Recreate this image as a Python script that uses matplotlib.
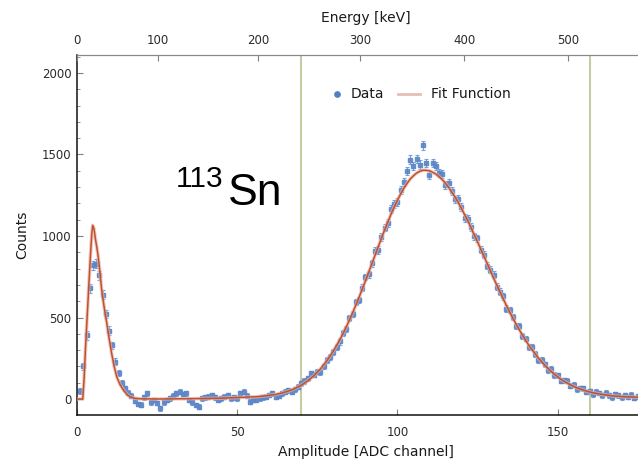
import matplotlib
matplotlib.use("Agg")
import matplotlib.pyplot as plt
from matplotlib.lines import Line2D

plt.rcParams['font.family'] = ['DejaVu Sans']

# ---------------- data ----------------
channels = list(range(1, 176))
counts = [
    50, 200, 390, 680, 820, 830, 760, 640, 520, 420,
    330, 230, 160, 100, 65, 40, 20, -10, -30, -35,
    10, 35, -20, -5, -25, -57, -20, -6, 4, 20,
    35, 45, 30, 35, -6, -20, -37, -47, 4, 10,
    14, 25, 10, -6, 4, 15, 25, 4, 10, 4,
    35, 45, 20, -16, -6, -6, 4, 10, 14, 25,
    35, 14, 20, 35, 45, 55, 45, 60, 76, 96,
    110, 127, 158, 150, 168, 165, 200, 240, 260, 290,
    321, 353, 405, 430, 498, 522, 594, 607, 682, 748,
    765, 833, 910, 913, 995, 1051, 1080, 1168, 1197, 1209,
    1282, 1333, 1397, 1469, 1429, 1473, 1438, 1555, 1449, 1377,
    1450, 1428, 1384, 1381, 1313, 1323, 1274, 1224, 1225, 1179,
    1111, 1107, 1055, 998, 985, 916, 886, 817, 792, 763,
    690, 657, 631, 555, 546, 502, 446, 446, 388, 371,
    321, 318, 277, 237, 239, 212, 178, 184, 147, 146,
    112, 114, 113, 82, 88, 59, 67, 65, 44, 48,
    29, 45, 36, 23, 40, 22, 10, 28, 22, 10,
    24, 13, 27, 7, 16,
]
errors = [
    18, 22, 25, 28, 28, 28, 28, 27, 26, 25,
    22, 20, 18, 16, 15, 14, 14, 14, 14, 14,
    14, 14, 14, 14, 14, 14, 14, 14, 14, 14,
    14, 14, 14, 14, 14, 14, 14, 14, 14, 14,
    14, 14, 14, 14, 14, 14, 14, 14, 14, 14,
    14, 14, 14, 14, 14, 14, 14, 14, 14, 14,
    14, 14, 14, 14, 14, 15, 15, 15, 15, 15,
    16, 16, 16, 16, 16, 17, 17, 17, 18, 18,
    18, 19, 19, 19, 20, 20, 20, 21, 21, 21,
    22, 22, 22, 23, 23, 23, 24, 24, 24, 24,
    25, 25, 25, 25, 25, 25, 25, 25, 25, 25,
    25, 25, 25, 25, 25, 25, 25, 24, 24, 24,
    24, 24, 23, 23, 23, 23, 22, 22, 22, 22,
    21, 21, 21, 20, 20, 20, 19, 19, 19, 18,
    18, 18, 17, 17, 17, 16, 16, 16, 16, 15,
    15, 15, 15, 15, 15, 14, 14, 14, 14, 14,
    14, 14, 14, 14, 14, 14, 14, 14, 14, 14,
    14, 14, 14, 14, 14,
]

fit_x = [0, 1, 1.8, 2.2, 2.7, 3.2, 3.7, 4.2, 4.6, 4.9, 5.3, 5.8, 6.2, 6.6,
         7.2, 7.7, 8.5, 9.3, 10, 10.8, 11.6, 12.4, 13.4, 14.5, 15.5, 16.5,
         18, 20, 22, 25, 30, 35, 40, 45, 50, 52, 54, 56, 58, 60, 62, 64, 66,
         68, 70, 72, 74, 76, 78, 80] + list(range(82, 176))
fit_y = [0, 0, 0, 120, 330, 520, 700, 880, 1010, 1065, 1045, 975, 930, 875,
         770, 670, 560, 465, 375, 281, 200, 137, 90, 55, 30, 14,
         5, 1, 1, 0, 1, 2, 3, 5, 9, 11, 12, 14, 18, 22, 28, 37, 49,
         64, 85, 111, 144, 185, 235, 294,
         362, 400, 440, 483, 527, 574, 622, 672, 723, 775,
         828, 880, 933, 985, 1036, 1085, 1133, 1177, 1219, 1257,
         1293, 1322, 1349, 1369, 1386, 1397, 1403, 1403, 1399, 1391,
         1380, 1364, 1346, 1323, 1298, 1269, 1239, 1205, 1169, 1131,
         1092, 1050, 1008, 965, 921, 876, 832, 787, 743, 700,
         657, 616, 575, 536, 497, 461, 426, 393, 361, 331,
         303, 277, 252, 229, 207, 188, 169, 152, 136, 122,
         109, 98, 87, 78, 69, 62, 55, 49, 43, 39,
         35, 31, 28, 25, 22, 20, 18, 17, 15, 14,
         13, 12, 12, 11]

marker_lines = [70, 160]
energy_tick_channels = [0, 25.2, 56.6, 88.4, 120.8, 153.3]
energy_tick_labels = ['0', '100', '200', '300', '400', '500']
x_ticks = [0, 50, 100, 150]
y_ticks = [0, 500, 1000, 1500, 2000]
legend_labels = ['Data', 'Fit Function']

# ---------------- figure ----------------
W, H = 638, 465
fig = plt.figure(figsize=(W / 100, H / 100), dpi=100)
ax = fig.add_axes([77 / W, 50 / H, (W - 77) / W, (415 - 55.5) / H])

tick_col = '#2a2a2a'
for x in marker_lines:
    ax.axvline(x, color='#c3cda2', lw=1.5, zorder=1)

ax.errorbar(channels, counts, yerr=errors, fmt='s', ms=2.2, color='#5b86c8',
            ecolor='#6f97d2', elinewidth=0.8, capsize=1.3, capthick=0.8,
            alpha=0.9, zorder=2)
ax.plot(fit_x, fit_y, color='#e9b4a6', lw=2.6, alpha=0.7, zorder=3,
        solid_capstyle='round', solid_joinstyle='round')
ax.plot(fit_x, fit_y, color='#c0502f', lw=1.1, zorder=4,
        solid_joinstyle='round')

ax.set_xlim(0, 175.1)
ax.set_ylim(-98, 2107)
ax.set_xticks(x_ticks)
ax.set_yticks(y_ticks)
ax.set_yticks(range(0, 2101, 100), minor=True)
ax.tick_params(axis='both', which='both', direction='in', colors='#808080',
               labelcolor=tick_col, labelsize=8.5)
ax.tick_params(axis='x', which='major', length=4, pad=8)
ax.tick_params(axis='y', which='major', length=4, pad=4)
ax.tick_params(axis='y', which='minor', length=2)
ax.spines['right'].set_visible(False)
ax.spines['top'].set_color('#888888')
ax.spines['left'].set_color('#111111')
ax.spines['bottom'].set_color('#111111')
ax.spines['left'].set_linewidth(1.1)
ax.spines['bottom'].set_linewidth(1.1)

ax2 = ax.twiny()
ax2.set_xlim(ax.get_xlim())
ax2.set_xticks(energy_tick_channels)
ax2.set_xticklabels(energy_tick_labels)
ax2.tick_params(axis='x', direction='in', colors='#808080', labelcolor=tick_col,
                labelsize=8.5, length=4, pad=6)
for s in ['right', 'left', 'bottom']:
    ax2.spines[s].set_visible(False)
ax2.spines['top'].set_color('#888888')

fig.text(366 / W, 1 - 18 / H, 'Energy [keV]', ha='center', va='center',
         fontsize=10, color='#1a1a1a')
fig.text(366 / W, 1 - 452 / H, 'Amplitude [ADC channel]', ha='center',
         va='center', fontsize=10, color='#1a1a1a')
fig.text(22 / W, 1 - 235 / H, 'Counts', ha='center', va='center',
         rotation=90, fontsize=10, color='#1a1a1a')

fig.text(176 / W, 1 - 187 / H, '113', fontsize=21.5, va='baseline', ha='left',
         family='Liberation Sans')
fig.text(228 / W, 1 - 205 / H, 'Sn', fontsize=32, va='baseline', ha='left',
         family='Liberation Sans')

# legend drawn manually at its measured place
ly = 1 - 93.8 / H
fig.add_artist(Line2D([337 / W], [ly], marker='o', ls='none', color='#4f7fc6',
                      ms=3.8, transform=fig.transFigure))
fig.text(351 / W, ly, legend_labels[0], va='center', ha='left', fontsize=10,
         color='#1a1a1a')
fig.add_artist(Line2D([398 / W, 420 / W], [ly, ly], color='#e3c0b6', lw=2,
                      transform=fig.transFigure))
fig.text(431 / W, ly, legend_labels[1], va='center', ha='left', fontsize=10,
         color='#1a1a1a')

fig.savefig('out.png', dpi=100)
